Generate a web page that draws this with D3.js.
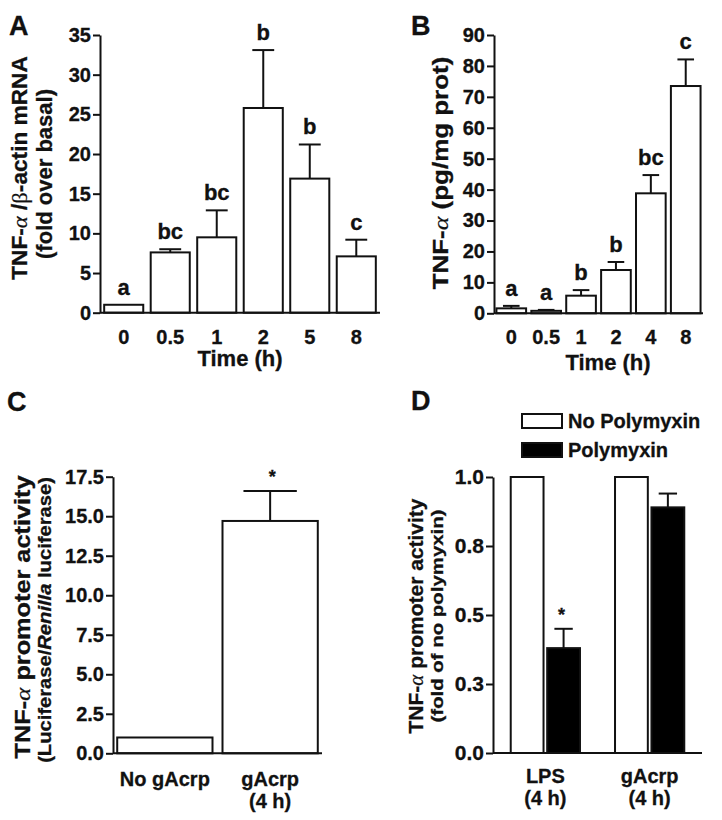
<!DOCTYPE html>
<html><head><meta charset="utf-8">
<script src="https://cdn.jsdelivr.net/npm/d3@7"></script>
<style>
body{margin:0;background:#fff}
text{font-family:"Liberation Sans",Arial,sans-serif;font-weight:bold;fill:#111;stroke:#111;stroke-width:0.3px}
.gr{font-family:"Liberation Serif","DejaVu Serif",serif;font-weight:normal;font-style:italic;stroke-width:0.2px}
.grb{font-family:"Liberation Serif","DejaVu Serif",serif;font-weight:normal;stroke-width:0.2px}
</style>
</head><body><svg id="c" width="722" height="820"></svg>
<script>
// ---------- data ----------
const timeA = ["0", "0.5", "1", "2", "5", "8"];
const meanA = [1.0, 7.6, 9.5, 25.8, 16.9, 7.1];
const errA = [0.0, 0.4, 3.4, 7.3, 4.3, 2.1];
const letterA = ["a", "bc", "bc", "b", "b", "c"];
const ticksA = [0, 5, 10, 15, 20, 25, 30, 35];

const timeB = ["0", "0.5", "1", "2", "4", "8"];
const meanB = [1.6, 0.8, 5.7, 14.0, 38.8, 73.5];
const errB = [0.8, 0.3, 1.8, 2.6, 5.9, 8.6];
const letterB = ["a", "a", "b", "b", "bc", "c"];
const ticksB = [0, 10, 20, 30, 40, 50, 60, 70, 80, 90];

const groupsC = ["No gAcrp", "gAcrp"];
const subLabelsC = ["", "(4 h)"];
const meanC = [1.0, 14.7];
const errC = [0.0, 1.9];
const starC = ["", "*"];
const ticksC = [0, 2.5, 5, 7.5, 10, 12.5, 15, 17.5];
const tickLabelsC = ["0.0", "2.5", "5.0", "7.5", "10.0", "12.5", "15.0", "17.5"];

const groupsD = ["LPS", "gAcrp"];
const subLabelsD = ["(4 h)", "(4 h)"];
const seriesD = ["No Polymyxin", "Polymyxin"];
const noPolyD = [1.0, 1.0];
const polyD = [0.38, 0.89];
const errPolyD = [0.07, 0.05];
const starD = ["*", ""];
const ticksD = [0, 0.25, 0.5, 0.75, 1.0];
const tickLabelsD = ["0.0", "0.3", "0.5", "0.8", "1.0"];

// ---------- drawing ----------
const svg = d3.select("#c");
const SW = 2;

function yAxis(g, y, ticks, labels, fs) {
  const ax = d3.axisLeft(y).tickValues(ticks).tickSize(7).tickPadding(2).tickSizeOuter(0)
    .tickFormat((d, i) => labels ? labels[i] : d);
  const a = g.append("g").attr("transform", `translate(${y.x0},0)`).call(ax);
  a.select(".domain").attr("stroke", "#111").attr("stroke-width", SW);
  a.selectAll(".tick line").attr("stroke", "#111").attr("stroke-width", SW);
  a.selectAll(".tick text").attr("font-size", fs).attr("fill", "#111")
    .attr("font-family", "Liberation Sans, Arial, sans-serif").attr("font-weight", "bold");
}
function xLine(g, x, y) {
  g.append("line").attr("x1", y.x0).attr("x2", x.range()[1]).attr("y1", y(0)).attr("y2", y(0))
    .attr("stroke", "#111").attr("stroke-width", SW);
}
function bars(g, x, y, cats, means, errs, fill, xoff) {
  xoff = xoff || 0;
  const bw = x.bandwidth();
  cats.forEach((c, i) => {
    const x0 = x(c) + xoff;
    if (errs && errs[i] > 0) {
      const cx = x0 + bw / 2;
      g.append("line").attr("x1", cx).attr("x2", cx).attr("y1", y(means[i])).attr("y2", y(means[i] + errs[i]))
        .attr("stroke", "#111").attr("stroke-width", SW);
      g.append("line").attr("x1", cx - bw * 0.28).attr("x2", cx + bw * 0.28)
        .attr("y1", y(means[i] + errs[i])).attr("y2", y(means[i] + errs[i]))
        .attr("stroke", "#111").attr("stroke-width", SW);
    }
    g.append("rect").attr("x", x0).attr("y", y(means[i])).attr("width", bw)
      .attr("height", y(0) - y(means[i])).attr("fill", fill).attr("stroke", "#111").attr("stroke-width", SW);
  });
}
function yTitle(g, cx, cy, parts, fs, stretch) {
  const t = g.append("text").attr("transform", `translate(${cx},${cy}) rotate(-90) scale(${stretch || 1},1)`)
    .attr("text-anchor", "middle").attr("font-size", fs);
  parts.forEach(p => {
    const s = t.append("tspan").text(p.t);
    if (p.c) s.attr("class", p.c);
    if (p.i) s.attr("font-style", "italic");
  });
}
function panelLetter(txt, x, y) {
  svg.append("text").attr("x", x).attr("y", y).attr("font-size", 27).text(txt);
}

// ----- Panel A -----
{
  const g = svg.append("g");
  const y = d3.scaleLinear().domain([0, 35]).range([312.7, 35]); y.x0 = 100;
  const x = d3.scaleBand().domain(timeA).range([100, 380]).paddingInner(0.16).paddingOuter(0.09);
  bars(g, x, y, timeA, meanA, errA, "#fff");
  yAxis(g, y, ticksA, null, 20);
  xLine(g, x, y);
  timeA.forEach((c, i) => {
    g.append("text").attr("x", x(c) + x.bandwidth() / 2).attr("y", 344).attr("text-anchor", "middle")
      .attr("font-size", 20).text(c);
    g.append("text").attr("x", x(c) + x.bandwidth() / 2).attr("y", y(meanA[i] + errA[i]) - 10)
      .attr("text-anchor", "middle").attr("font-size", 22).text(letterA[i]);
  });
  g.append("text").attr("x", 240).attr("y", 366).attr("text-anchor", "middle").attr("font-size", 22).text("Time (h)");
  yTitle(g, 27, 168, [{t: "TNF-"}, {t: "α", c: "gr"}, {t: " /"}, {t: "β", c: "grb"}, {t: "-actin mRNA"}], 22, 1.03);
  yTitle(g, 52, 174, [{t: "(fold over basal)"}], 22, 1.0);
  panelLetter("A", 9, 35);
}

// ----- Panel B -----
{
  const g = svg.append("g");
  const y = d3.scaleLinear().domain([0, 90]).range([313.3, 35]); y.x0 = 494;
  const x = d3.scaleBand().domain(timeB).range([494, 703]).paddingInner(0.15).paddingOuter(0.07);
  bars(g, x, y, timeB, meanB, errB, "#fff");
  yAxis(g, y, ticksB, null, 20);
  xLine(g, x, y);
  timeB.forEach((c, i) => {
    g.append("text").attr("x", x(c) + x.bandwidth() / 2).attr("y", 344).attr("text-anchor", "middle")
      .attr("font-size", 20).text(c);
    g.append("text").attr("x", x(c) + x.bandwidth() / 2).attr("y", y(meanB[i] + errB[i]) - 10)
      .attr("text-anchor", "middle").attr("font-size", 22).text(letterB[i]);
  });
  g.append("text").attr("x", 608).attr("y", 370).attr("text-anchor", "middle").attr("font-size", 22).text("Time (h)");
  yTitle(g, 448, 173, [{t: "TNF-"}, {t: "α", c: "gr"}, {t: " (pg/mg prot)"}], 22, 1.18);
  panelLetter("B", 411, 35);
}

// ----- Panel C -----
{
  const g = svg.append("g");
  const y = d3.scaleLinear().domain([0, 17.5]).range([753.3, 476.7]); y.x0 = 113;
  const x = d3.scaleBand().domain(groupsC).range([113, 322]).paddingInner(0.095).paddingOuter(0.04);
  bars(g, x, y, groupsC, meanC, errC, "#fff");
  yAxis(g, y, ticksC, tickLabelsC, 20);
  xLine(g, x, y);
  groupsC.forEach((c, i) => {
    const cx = x(c) + x.bandwidth() / 2;
    g.append("text").attr("x", cx).attr("y", 786).attr("text-anchor", "middle").attr("font-size", 20).text(c);
    if (subLabelsC[i]) g.append("text").attr("x", cx).attr("y", 808).attr("text-anchor", "middle").attr("font-size", 20).text(subLabelsC[i]);
    if (starC[i]) g.append("text").attr("x", cx + 2).attr("y", y(meanC[i] + errC[i]) - 8).attr("text-anchor", "middle")
      .attr("font-size", 18).attr("font-weight", "normal").attr("fill", "#444").attr("stroke", "none").text(starC[i]);
  });
  yTitle(g, 30, 617, [{t: "TNF-"}, {t: "α", c: "gr"}, {t: " promoter activity"}], 22, 1.15);
  yTitle(g, 51, 620, [{t: "(Luciferase/"}, {t: "Renilla", i: true}, {t: " luciferase)"}], 18, 1.12);
  panelLetter("C", 7, 411);
}

// ----- Panel D -----
{
  const g = svg.append("g");
  const y = d3.scaleLinear().domain([0, 1.0]).range([753, 477]); y.x0 = 493;
  const x = d3.scaleBand().domain(groupsD).range([493, 702]).paddingInner(0.336).paddingOuter(0.17);
  const xs = d3.scaleBand().domain(seriesD).range([0, x.bandwidth()]).paddingInner(0.1);
  const sub = (name) => {
    const f = (c) => x(c) + xs(name);
    f.bandwidth = () => xs.bandwidth();
    f.range = () => x.range();
    return f;
  };
  bars(g, sub(seriesD[0]), y, groupsD, noPolyD, null, "#fff");
  bars(g, sub(seriesD[1]), y, groupsD, polyD, errPolyD, "#000");
  yAxis(g, y, ticksD, tickLabelsD, 21);
  xLine(g, x, y);
  groupsD.forEach((c, i) => {
    const cx = x(c) + x.bandwidth() / 2;
    g.append("text").attr("x", cx).attr("y", 783).attr("text-anchor", "middle").attr("font-size", 20).text(c);
    g.append("text").attr("x", cx).attr("y", 805).attr("text-anchor", "middle").attr("font-size", 20).text(subLabelsD[i]);
    if (starD[i]) {
      const px = x(c) + xs(seriesD[1]) + xs.bandwidth() / 2;
      g.append("text").attr("x", px - 2).attr("y", y(polyD[i] + errPolyD[i]) - 8).attr("text-anchor", "middle")
        .attr("font-size", 18).attr("font-weight", "normal").attr("fill", "#444").attr("stroke", "none").text(starD[i]);
    }
  });
  // legend
  seriesD.forEach((s, i) => {
    const ly = 414 + i * 29;
    g.append("rect").attr("x", 522).attr("y", ly).attr("width", 40).attr("height", 14)
      .attr("fill", i === 0 ? "#fff" : "#000").attr("stroke", "#111").attr("stroke-width", SW);
    g.append("text").attr("x", 568).attr("y", ly + 14).attr("font-size", 20).text(s);
  });
  yTitle(g, 423, 616, [{t: "TNF-"}, {t: "α", c: "gr"}, {t: " promoter activity"}], 20, 1.05);
  yTitle(g, 443, 616, [{t: "(fold of no polymyxin)"}], 17, 1.2);
  panelLetter("D", 411, 410);
}
</script>
</body></html>
